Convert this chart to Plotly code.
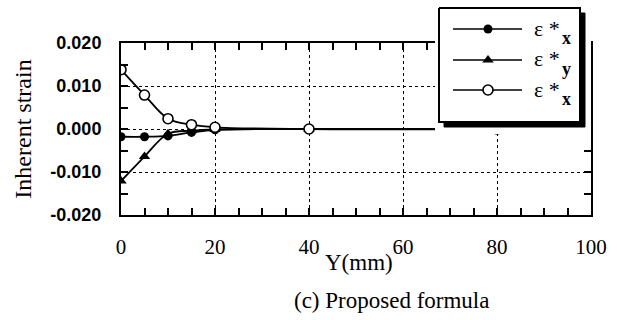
import plotly.graph_objects as go

# Distance from the weld line, Y (mm)
y_pos = [0, 5, 10, 15, 20, 40, 80]

# Inherent strain components
eps_x_solid = [-0.0018, -0.0018, -0.0016, -0.0008, -0.0002, 0.0, 0.0]
eps_y = [-0.0121, -0.0064, -0.0011, -0.0004, -0.0001, 0.0, 0.0]
eps_x_open = [0.0138, 0.0079, 0.0024, 0.0010, 0.0004, 0.0, 0.0]

x_ticks = [0, 20, 40, 60, 80, 100]
y_ticks = [-0.02, -0.01, 0.0, 0.01, 0.02]
y_tick_labels = ["-0.020", "-0.010", "0.000", "0.010", "0.020"]

legend_labels = [("ε *", "x"), ("ε *", "y"), ("ε *", "x")]

SERIF = "Liberation Serif, Times New Roman, serif"
SANS = "Liberation Sans, Arial, sans-serif"

# plot area in pixels: x 121..591, y 5..215
W, H = 617, 320
ML, MR, MT, MB = 121, 26, 5, 105
PW, PH = W - ML - MR, H - MT - MB


def py(px):
    """pixel row -> paper y"""
    return (H - MB - px) / PH


def pxx(px):
    """pixel column -> paper x"""
    return (px - ML) / PW


fig = go.Figure()

line_kw = dict(color="black", width=1.8, shape="spline", smoothing=1.0)

fig.add_trace(go.Scatter(
    x=y_pos, y=eps_y, mode="lines+markers", line=line_kw,
    marker=dict(symbol="triangle-up", size=10, color="black"),
    showlegend=False))
fig.add_trace(go.Scatter(
    x=y_pos, y=eps_x_solid, mode="lines+markers", line=line_kw,
    marker=dict(symbol="circle", size=9, color="black"),
    showlegend=False))
fig.add_trace(go.Scatter(
    x=y_pos, y=eps_x_open, mode="lines+markers", line=line_kw,
    marker=dict(symbol="circle", size=10, color="white",
                line=dict(color="black", width=1.6)),
    showlegend=False))

# --- boxed key, drawn on its own axes so it sits above the main plot ---
kx0, kx1, ky0, ky1 = 439, 580, 8, 122   # box edges (px)
sh = 5                                    # drop-shadow offset
fig.add_trace(go.Scatter(
    x=[kx0 + sh, kx1 + sh, kx1 + sh, kx0 + sh, kx0 + sh],
    y=[ky0 + sh, ky0 + sh, ky1 + sh, ky1 + sh, ky0 + sh],
    fill="toself", fillcolor="black", mode="lines",
    line=dict(color="black", width=1), xaxis="x2", yaxis="y2",
    showlegend=False, hoverinfo="skip"))
fig.add_trace(go.Scatter(
    x=[kx0, kx1, kx1, kx0, kx0],
    y=[ky0, ky0, ky1, ky1, ky0],
    fill="toself", fillcolor="white", mode="lines",
    line=dict(color="black", width=2), xaxis="x2", yaxis="y2",
    showlegend=False, hoverinfo="skip"))

row_y = [29, 60, 90]
key_markers = [
    dict(symbol="circle", size=9, color="black"),
    dict(symbol="triangle-up", size=10, color="black"),
    dict(symbol="circle", size=10, color="white", line=dict(color="black", width=1.6)),
]
for ry, mk in zip(row_y, key_markers):
    fig.add_trace(go.Scatter(
        x=[453, 522], y=[ry, ry], mode="lines",
        line=dict(color="black", width=1.6), xaxis="x2", yaxis="y2",
        showlegend=False, hoverinfo="skip"))
    fig.add_trace(go.Scatter(
        x=[488], y=[ry], mode="markers", marker=mk,
        xaxis="x2", yaxis="y2", showlegend=False, hoverinfo="skip"))

annotations = []
for ry, (main, sub) in zip(row_y, legend_labels):
    annotations.append(dict(
        x=pxx(533), y=py(ry - 1), xref="paper", yref="paper",
        xanchor="left", yanchor="middle", showarrow=False, borderpad=0,
        text=main, font=dict(family=SERIF, size=22, color="black")))
    annotations.append(dict(
        x=pxx(561), y=py(ry + 9), xref="paper", yref="paper",
        xanchor="left", yanchor="middle", showarrow=False, borderpad=0,
        text=f"<b>{sub}</b>", font=dict(family=SERIF, size=18, color="black")))

annotations.append(dict(
    x=pxx(359), y=py(262), xref="paper", yref="paper",
    xanchor="center", yanchor="middle", showarrow=False,
    text="Y(mm)", font=dict(family=SERIF, size=23, color="black")))

annotations.append(dict(
    x=pxx(391), y=py(300), xref="paper", yref="paper",
    xanchor="center", yanchor="middle", showarrow=False,
    text="(c) Proposed formula", font=dict(family=SERIF, size=23, color="black")))

ydom_top = py(43)

fig.update_layout(
    width=W, height=H,
    margin=dict(l=ML, r=MR, t=MT, b=MB, pad=0, autoexpand=False),
    paper_bgcolor="white", plot_bgcolor="white",
    showlegend=False,
    xaxis=dict(
        domain=[0, 1], range=[0, 100], tickvals=x_ticks, automargin=False,
        ticks="inside", ticklen=7, tickwidth=1.5, tickcolor="black",
        minor=dict(dtick=5, tick0=0, ticks="inside", ticklen=7, tickwidth=1.5,
                   tickcolor="black", showgrid=False),
        showgrid=True, gridcolor="black", griddash="dot", gridwidth=1,
        showline=True, linecolor="black", linewidth=2, mirror="ticks",
        zeroline=False,
        tickfont=dict(family=SERIF, size=21, color="black"),
        ticklabelstandoff=12,
    ),
    yaxis=dict(
        domain=[0, ydom_top], range=[-0.02, 0.02], automargin=False,
        tickvals=y_ticks, ticktext=y_tick_labels,
        ticks="inside", ticklen=7, tickwidth=1.5, tickcolor="black",
        minor=dict(dtick=0.005, tick0=0, ticks="inside", ticklen=7, tickwidth=1.5,
                   tickcolor="black", showgrid=False),
        showgrid=True, gridcolor="black", griddash="dot", gridwidth=1,
        showline=True, linecolor="black", linewidth=2, mirror="ticks",
        zeroline=False,
        tickfont=dict(family=SANS, size=18, color="black", weight="bold"),
        ticklabelstandoff=14,
        title=dict(text="Inherent strain",
                   font=dict(family=SERIF, size=24, color="black"), standoff=12),
    ),
    xaxis2=dict(domain=[pxx(435), pxx(591)], range=[435, 591], visible=False,
                fixedrange=True, automargin=False),
    yaxis2=dict(domain=[py(134), 1.0], range=[134, 5], visible=False,
                fixedrange=True, automargin=False),
    annotations=annotations,
)

fig.write_html("out.html")
